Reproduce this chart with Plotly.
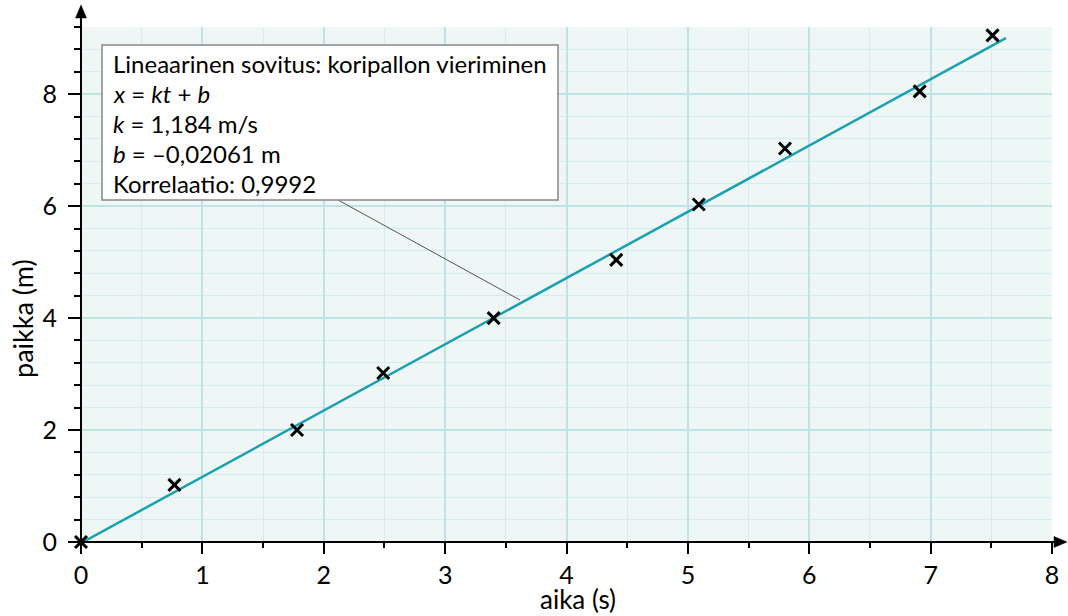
import plotly.graph_objects as go

# Data
aika_s = [0.0, 0.77, 1.78, 2.49, 3.40, 4.41, 5.09, 5.80, 6.91, 7.51]
paikka_m = [0.0, 1.02, 2.00, 3.02, 4.00, 5.04, 6.03, 7.03, 8.05, 9.05]
fit_t = [0.0, 7.62]
fit_x = [-0.02, 9.00]
x_ticks = [0, 1, 2, 3, 4, 5, 6, 7, 8]
y_ticks = [0, 2, 4, 6, 8]
box_lines = [
    "Lineaarinen sovitus: koripallon vieriminen",
    "<i>x</i> = <i>kt</i> + <i>b</i>",
    "<i>k</i> = 1,184 m/s",
    "<i>b</i> = –0,02061 m",
    "Korrelaatio: 0,9992",
]

FONT = "Lato"
W, H = 1068, 616
ML, MR, MT, MB = 81, 16, 27, 74
pw, ph = W - ML - MR, H - MT - MB
xr, yr = (0, 8), (0, 9.2)


def dx(px):
    return xr[0] + (px - ML) / pw * (xr[1] - xr[0])


def dy(py):
    return yr[0] + (H - MB - py) / ph * (yr[1] - yr[0])


def px_x(p):
    return (p - ML) / pw


def px_y(p):
    return (H - MB - p) / ph


fig = go.Figure()
fig.add_trace(go.Scatter(x=fit_t, y=fit_x, mode="lines",
                         line=dict(color="#1aa0b2", width=2.5),
                         hoverinfo="skip", showlegend=False))
fig.add_trace(go.Scatter(x=aika_s, y=paikka_m, mode="markers",
                         marker=dict(symbol="x-thin", size=12,
                                     line=dict(color="black", width=3)),
                         showlegend=False, cliponaxis=False))

grid_major = "#bfe2e7"
grid_minor = "#d2ecef"
fig.update_xaxes(range=list(xr), tickmode="array", tickvals=x_ticks,
                 ticks="outside", ticklen=11, tickwidth=2, tickcolor="black",
                 showgrid=True, gridcolor=grid_major, gridwidth=2,
                 zeroline=False, showline=False, automargin=False,
                 tickfont=dict(family=FONT, size=25, color="black"),
                 ticklabelstandoff=0,
                 minor=dict(dtick=0.5, tick0=0, ticks="outside", ticklen=5,
                            tickwidth=1.5, tickcolor="black",
                            showgrid=True, gridcolor=grid_minor, gridwidth=1))
fig.update_yaxes(range=list(yr), tickmode="array", tickvals=y_ticks,
                 ticks="outside", ticklen=12, tickwidth=2, tickcolor="black",
                 showgrid=True, gridcolor=grid_major, gridwidth=2,
                 zeroline=False, showline=False, automargin=False,
                 tickfont=dict(family=FONT, size=25, color="black"),
                 ticklabelstandoff=6,
                 minor=dict(dtick=0.4, tick0=0, ticks="outside", ticklen=6,
                            tickwidth=1.5, tickcolor="black",
                            showgrid=True, gridcolor=grid_minor, gridwidth=1))

# info box and pointer
fig.add_shape(type="line", x0=dx(338), y0=dy(200), x1=dx(520), y1=dy(300),
              line=dict(color="#555555", width=1))
fig.add_shape(type="rect", x0=dx(102), y0=dy(200), x1=dx(558), y1=dy(45),
              line=dict(color="#888888", width=1.5), fillcolor="white",
              layer="above")
for i, txt in enumerate(box_lines):
    fig.add_annotation(x=dx(111), y=dy(63 + 30 * i), text=txt,
                       showarrow=False, xanchor="left", yanchor="middle",
                       font=dict(family=FONT, size=24, color="black"))

# axis lines with arrowheads (paper-referenced shapes)
x0p, y0p = ML, H - MB
fig.add_shape(type="line", xref="paper", yref="paper",
              x0=px_x(x0p), y0=px_y(y0p), x1=px_x(x0p), y1=px_y(14),
              line=dict(color="black", width=2), layer="above")
fig.add_shape(type="path", xref="paper", yref="paper",
              path=(f"M {px_x(x0p)} {px_y(5)} L {px_x(x0p - 5.5)} {px_y(18)} "
                    f"L {px_x(x0p + 5.5)} {px_y(18)} Z"),
              fillcolor="black", line=dict(color="black", width=0.5),
              layer="above")
fig.add_shape(type="line", xref="paper", yref="paper",
              x0=px_x(x0p), y0=px_y(y0p), x1=px_x(1058), y1=px_y(y0p),
              line=dict(color="black", width=2), layer="above")
fig.add_shape(type="path", xref="paper", yref="paper",
              path=(f"M {px_x(1067)} {px_y(y0p)} L {px_x(1054)} {px_y(y0p - 5.5)} "
                    f"L {px_x(1054)} {px_y(y0p + 5.5)} Z"),
              fillcolor="black", line=dict(color="black", width=0.5),
              layer="above")

# axis titles
fig.add_annotation(x=px_x(578), xref="paper", y=px_y(599),
                   yref="paper", text="aika (s)", showarrow=False,
                   xanchor="center", yanchor="middle",
                   font=dict(family=FONT, size=26, color="black"))
fig.add_annotation(x=px_x(23), xref="paper", y=px_y(319),
                   yref="paper", text="paikka (m)", showarrow=False,
                   textangle=-90, xanchor="center", yanchor="middle",
                   font=dict(family=FONT, size=27, color="black"))

fig.update_layout(width=W, height=H,
                  margin=dict(l=ML, r=MR, t=MT, b=MB, autoexpand=False),
                  plot_bgcolor="#eef6f6", paper_bgcolor="white",
                  font=dict(family=FONT, color="black"))

fig.write_html("out.html", include_plotlyjs=True,
               config={"displayModeBar": False},
               post_script="document.body.style.margin='0';"
                           "document.body.style.overflow='hidden';")
